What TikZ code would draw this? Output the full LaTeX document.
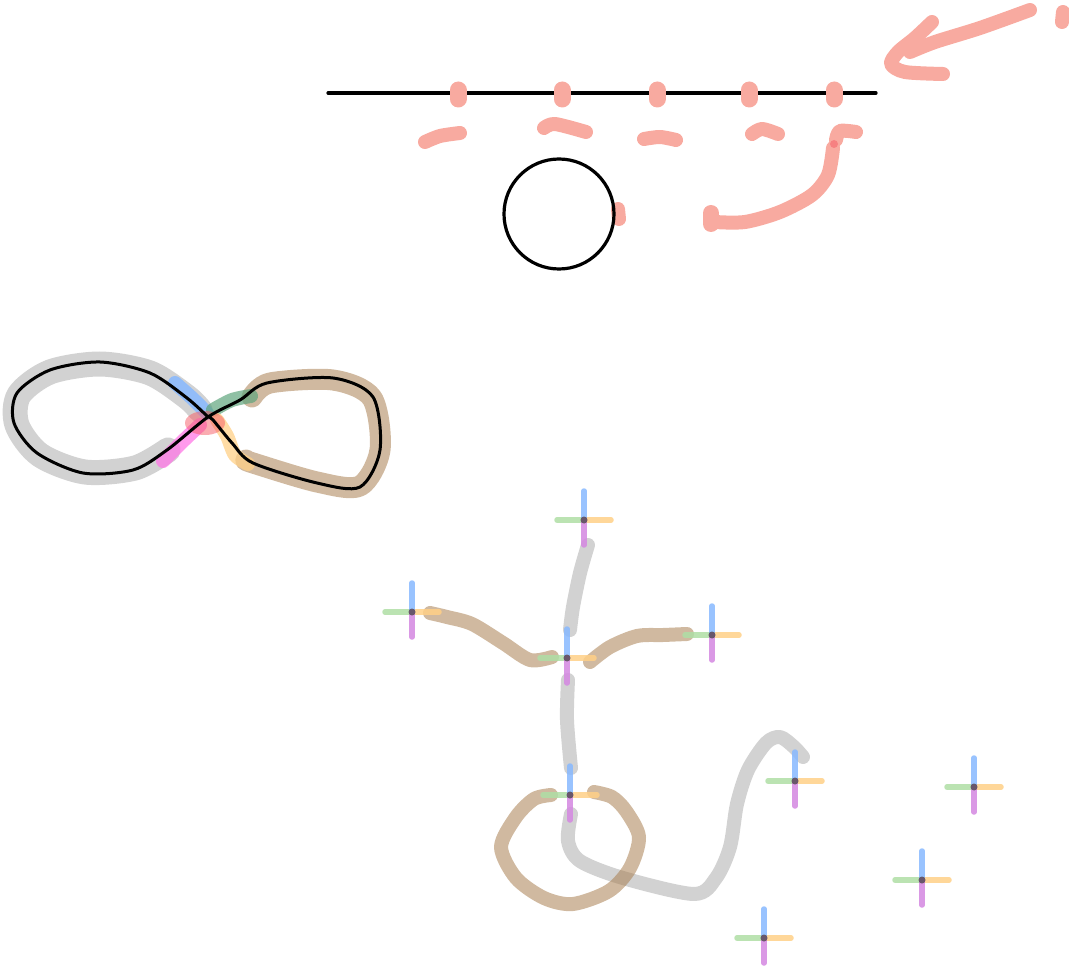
\documentclass[tikz,border=0pt]{standalone}
\usetikzlibrary{calc}
\definecolor{salmon}{RGB}{248,170,160}
\definecolor{sgray}{RGB}{205,205,205}
\definecolor{sbrown}{RGB}{170,128,82}
\definecolor{cblue}{RGB}{135,185,255}
\definecolor{cgreen}{RGB}{175,222,165}
\definecolor{corange}{RGB}{255,208,135}
\definecolor{cpurple}{RGB}{212,135,225}
\definecolor{cdot}{RGB}{95,80,95}
\definecolor{cpink}{RGB}{255,120,230}
\definecolor{cgreenb}{RGB}{95,165,125}
\definecolor{cred}{RGB}{245,90,100}
\tikzset{
  pen/.style={line width=14pt,line cap=round,line join=round},
  salm/.style={pen,draw=salmon},
  grayst/.style={pen,draw=sgray,opacity=0.9},
  brownst/.style={pen,draw=sbrown,opacity=0.55},
  inkline/.style={line width=3.2pt,draw=black,line cap=round,line join=round},
  armst/.style={line width=5.5pt,line cap=round,opacity=0.85},
  crossmark/.pic={
    \draw[armst,draw=cgreen] (0,0) -- (-27,0);
    \draw[armst,draw=corange] (0,0) -- (27,0);
    \draw[armst,draw=cblue] (0,0) -- (0,-29);
    \draw[armst,draw=cpurple] (0,0) -- (0,25);
    \fill[cdot,opacity=0.9] (0,0) circle (3.5);
  }
}
\begin{document}
\begin{tikzpicture}[x=1pt,y=-1pt]
\useasboundingbox (0,0) rectangle (1069,968);
% ---------- top section ----------
\draw[inkline] (328,93) -- (876,93);
\foreach \x in {458,562,657,749,834} \draw[salm,line width=17pt] (\x,90) -- (\x,99);
\draw[salm] plot[smooth] coordinates {(425,142) (440,136) (460,133)};
\draw[salm] plot[smooth] coordinates {(544,128) (555,124) (586,132)};
\draw[salm] plot[smooth] coordinates {(644,139) (660,137) (676,140)};
\draw[salm] plot[smooth] coordinates {(752,134) (762,129) (778,134)};
\draw[salm] plot[smooth] coordinates {(836,140) (840,131) (856,132)};
\draw[salm] plot[smooth] coordinates {(833,148) (828,175) (812,195) (780,212) (745,222) (715,222)};
\draw[salm,line width=16pt] (711,213) -- (711,224);
\draw[salm] (618,209) -- (619,219);
\fill[cred,opacity=0.5] (834,144) circle (4);
\draw[inkline] (559,214) circle (55);
% arrow top right
\draw[salm] plot[smooth] coordinates {(1030,10) (980,28) (935,42) (910,52)};
\draw[salm] plot[smooth] coordinates {(932,22) (915,38) (898,52) (891,64) (905,72) (943,74)};
\draw[salm] (1063,12) -- (1062,22);
% ---------- infinity ----------
\draw[line width=25pt,draw=sgray,opacity=0.9,line cap=round,line join=round]
  plot[smooth] coordinates {(200,410) (187,397) (150,373) (100,364) (50,372) (19,395) (17,425) (40,455) (85,472) (135,468) (168,450)};
\draw[line width=21pt,draw=sbrown,opacity=0.55,line cap=round,line join=round]
  plot[smooth] coordinates {(252,397) (270,383) (333,380) (372,398) (380,450) (360,486) (317,482) (253,463) (246,460)};
\draw[line width=14pt,draw=cblue,opacity=0.85,line cap=round] plot[smooth] coordinates {(175,383) (192,398) (207,413)};
\draw[line width=14pt,draw=cgreenb,opacity=0.7,line cap=round] plot[smooth] coordinates {(213,410) (232,400) (251,396)};
\draw[line width=14pt,draw=cpink,opacity=0.75,line cap=round] plot[smooth] coordinates {(163,461) (182,442) (200,425)};
\draw[line width=14pt,draw=corange,opacity=0.75,line cap=round] plot[smooth] coordinates {(217,420) (227,436) (235,455) (248,464)};
\fill[cred,opacity=0.5] (205,423) ellipse (20 and 12);
\draw[inkline,line width=3pt] plot[smooth] coordinates {(208,417) (187,398) (150,373) (100,362) (50,370) (17,393) (14,423) (37,453) (83,473) (133,470) (167,450) (208,417) (240,400) (267,383) (333,378) (373,397) (380,450) (360,487) (317,483) (253,463) (232,443) (213,420) (208,417)};
% ---------- tree ----------
\draw[grayst] plot[smooth] coordinates {(588,545) (580,573) (573,607) (570,630)};
\draw[grayst] plot[smooth] coordinates {(568,680) (567,720) (571,768)};
\draw[grayst] plot[smooth] coordinates {(571,814) (568,841) (580,861) (623,878) (694,894) (716,878) (730,847) (737,804) (748,770) (766,743) (780,737) (794,747) (803,757)};
\draw[brownst] plot[smooth] coordinates {(430,613) (447,617) (472,624) (503,643) (530,660) (552,657)};
\draw[brownst] plot[smooth] coordinates {(590,662) (610,647) (637,636) (663,635) (687,634)};
\draw[brownst] plot[smooth] coordinates {(594,792) (612,797) (626,811) (639,837) (630,868) (609,891) (573,904) (544,898) (516,878) (501,847) (516,817) (534,799) (551,795)};
\foreach \p in {(584,520),(412,612),(567,658),(712,635),(570,795),(795,781),(974,787),(922,880),(764,938)}
  \pic at \p {crossmark};
\end{tikzpicture}
\end{document}
